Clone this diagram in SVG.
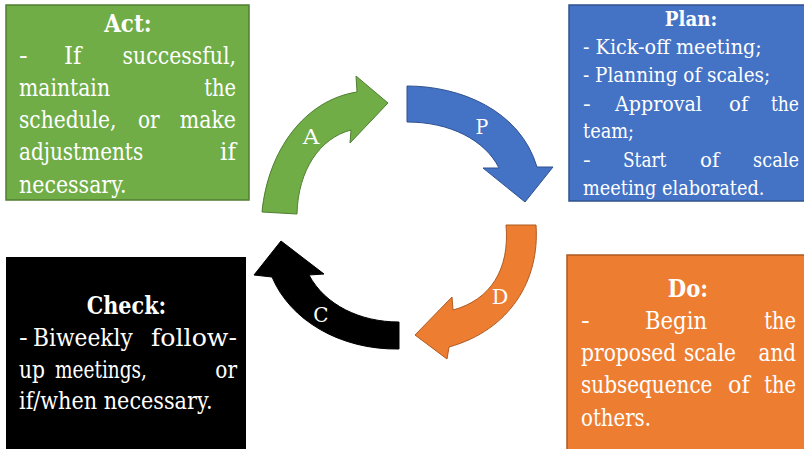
<svg xmlns="http://www.w3.org/2000/svg" width="804" height="449" viewBox="0 0 804 449">
  <style>
    text { font-family: "DejaVu Serif", serif; fill: #ffffff; }
    .big { font-size: 24px; }
    .mid { font-size: 21px; }
    .h { font-weight: bold; text-anchor: middle; }
    .e { text-anchor: end; }
    .lbl { font-size: 21px; text-anchor: middle; }
  </style>

  <rect width="804" height="449" fill="#ffffff"/>

  <!-- cycle arrows -->
  <g id="connectors">
    <g id="arrow-a">
      <path d="M262,212 C268,150 305,100 357,92 L356,76 L388,103 L350,143 L351,130 C320,138 298,170 297,214 Z" fill="#70AD47" stroke="#507E32" stroke-width="1"/>
      <text class="lbl" x="311" y="144" textLength="16.6" lengthAdjust="spacingAndGlyphs">A</text>
    </g>
    <g id="arrow-p">
      <path d="M407,86 C460,86 520,110 537,167 L553,167 L525,202 L483,168 L499,168 C485,140 450,122 407,122 Z" fill="#4472C4" stroke="#2F528F" stroke-width="1"/>
      <text class="lbl" x="482" y="134" textLength="12.8" lengthAdjust="spacingAndGlyphs">P</text>
    </g>
    <g id="arrow-d">
      <path d="M536,225 C540,280 510,330 449,347 L447,359 L415,335 L452,297 L453,310 C490,300 510,270 506,225 Z" fill="#ED7D31" stroke="#AE5A21" stroke-width="1"/>
      <text class="lbl" x="500" y="304" textLength="16.6" lengthAdjust="spacingAndGlyphs">D</text>
    </g>
    <g id="arrow-c">
      <path d="M399,349 C340,350 290,320 272,277 L254,275 L281,241 L324,274 L309,275 C325,305 360,322 399,322 Z" fill="#000000" stroke="#000000" stroke-width="1"/>
      <text class="lbl" x="321" y="322" textLength="15.3" lengthAdjust="spacingAndGlyphs">C</text>
    </g>
  </g>

  <!-- Act -->
  <g id="act">
    <rect x="6" y="5" width="243" height="195" fill="#70AD47" stroke="#507E32" stroke-width="1.5"/>
    <text class="big h" x="128" y="32" textLength="47.6" lengthAdjust="spacingAndGlyphs">Act:</text>
    <text class="big" x="19" y="64" textLength="8.7" lengthAdjust="spacingAndGlyphs">-</text>
    <text class="big" x="64" y="64" textLength="17.3" lengthAdjust="spacingAndGlyphs">If</text>
    <text class="big e" x="236" y="64" textLength="113.4" lengthAdjust="spacingAndGlyphs">successful,</text>
    <text class="big" x="19" y="96" textLength="91" lengthAdjust="spacingAndGlyphs">maintain</text>
    <text class="big e" x="236" y="96" textLength="31.8" lengthAdjust="spacingAndGlyphs">the</text>
    <text class="big" x="19" y="128" textLength="97.5" lengthAdjust="spacingAndGlyphs">schedule,</text>
    <text class="big" x="138" y="128" textLength="21.7" lengthAdjust="spacingAndGlyphs">or</text>
    <text class="big e" x="236" y="128" textLength="56.3" lengthAdjust="spacingAndGlyphs">make</text>
    <text class="big" x="19" y="160" textLength="124.2" lengthAdjust="spacingAndGlyphs">adjustments</text>
    <text class="big e" x="236" y="160" textLength="15.9" lengthAdjust="spacingAndGlyphs">if</text>
    <text class="big" x="19" y="193" textLength="107.6" lengthAdjust="spacingAndGlyphs">necessary.</text>
  </g>

  <!-- Plan -->
  <g id="plan">
    <rect x="569" y="5" width="240" height="196" fill="#4472C4" stroke="#2F528F" stroke-width="1.5"/>
    <text class="mid h" x="691" y="26" textLength="52.4" lengthAdjust="spacingAndGlyphs">Plan:</text>
    <text class="mid" x="583" y="54" textLength="178.8" lengthAdjust="spacingAndGlyphs">- Kick-off meeting;</text>
    <text class="mid" x="583" y="82" textLength="187.2" lengthAdjust="spacingAndGlyphs">- Planning of scales;</text>
    <text class="mid" x="583" y="111" textLength="7.7" lengthAdjust="spacingAndGlyphs">-</text>
    <text class="mid" x="615" y="111" textLength="86.9" lengthAdjust="spacingAndGlyphs">Approval</text>
    <text class="mid" x="729" y="111" textLength="19.2" lengthAdjust="spacingAndGlyphs">of</text>
    <text class="mid e" x="799" y="111" textLength="28.1" lengthAdjust="spacingAndGlyphs">the</text>
    <text class="mid" x="583" y="138" textLength="51.1" lengthAdjust="spacingAndGlyphs">team;</text>
    <text class="mid" x="583" y="167" textLength="7.7" lengthAdjust="spacingAndGlyphs">-</text>
    <text class="mid" x="623" y="167" textLength="43.4" lengthAdjust="spacingAndGlyphs">Start</text>
    <text class="mid" x="700" y="167" textLength="19.2" lengthAdjust="spacingAndGlyphs">of</text>
    <text class="mid e" x="799" y="167" textLength="46" lengthAdjust="spacingAndGlyphs">scale</text>
    <text class="mid" x="583" y="195" textLength="181.4" lengthAdjust="spacingAndGlyphs">meeting elaborated.</text>
  </g>

  <!-- Check -->
  <g id="check">
    <rect x="6" y="257" width="240" height="200" fill="#000000"/>
    <text class="big h" x="126.5" y="314" textLength="79.4" lengthAdjust="spacingAndGlyphs">Check:</text>
    <text class="big" x="19" y="346" textLength="8.7" lengthAdjust="spacingAndGlyphs">-</text>
    <text class="big" x="33" y="346" textLength="99.7" lengthAdjust="spacingAndGlyphs">Biweekly</text>
    <text class="big e" x="237" y="346" textLength="86" lengthAdjust="spacingAndGlyphs">follow-</text>
    <text class="big" x="19" y="378" textLength="26" lengthAdjust="spacingAndGlyphs">up</text>
    <text class="big" x="55" y="378" textLength="92" lengthAdjust="spacingAndGlyphs">meetings,</text>
    <text class="big e" x="237" y="378" textLength="21.7" lengthAdjust="spacingAndGlyphs">or</text>
    <text class="big" x="19" y="409" textLength="193.5" lengthAdjust="spacingAndGlyphs">if/when necessary.</text>
  </g>

  <!-- Do -->
  <g id="do">
    <rect x="567" y="255" width="245" height="200" fill="#ED7D31" stroke="#AE5A21" stroke-width="1.5"/>
    <text class="big h" x="688" y="297" textLength="40.4" lengthAdjust="spacingAndGlyphs">Do:</text>
    <text class="big" x="581" y="329" textLength="8.7" lengthAdjust="spacingAndGlyphs">-</text>
    <text class="big" x="645" y="329" textLength="62.1" lengthAdjust="spacingAndGlyphs">Begin</text>
    <text class="big e" x="796" y="329" textLength="31.8" lengthAdjust="spacingAndGlyphs">the</text>
    <text class="big" x="581" y="361" textLength="95.3" lengthAdjust="spacingAndGlyphs">proposed</text>
    <text class="big" x="684" y="361" textLength="52" lengthAdjust="spacingAndGlyphs">scale</text>
    <text class="big e" x="796" y="361" textLength="37.5" lengthAdjust="spacingAndGlyphs">and</text>
    <text class="big" x="581" y="393" textLength="131.4" lengthAdjust="spacingAndGlyphs">subsequence</text>
    <text class="big" x="728" y="393" textLength="21.7" lengthAdjust="spacingAndGlyphs">of</text>
    <text class="big e" x="796" y="393" textLength="31.8" lengthAdjust="spacingAndGlyphs">the</text>
    <text class="big" x="581" y="426" textLength="70" lengthAdjust="spacingAndGlyphs">others.</text>
  </g>
</svg>
